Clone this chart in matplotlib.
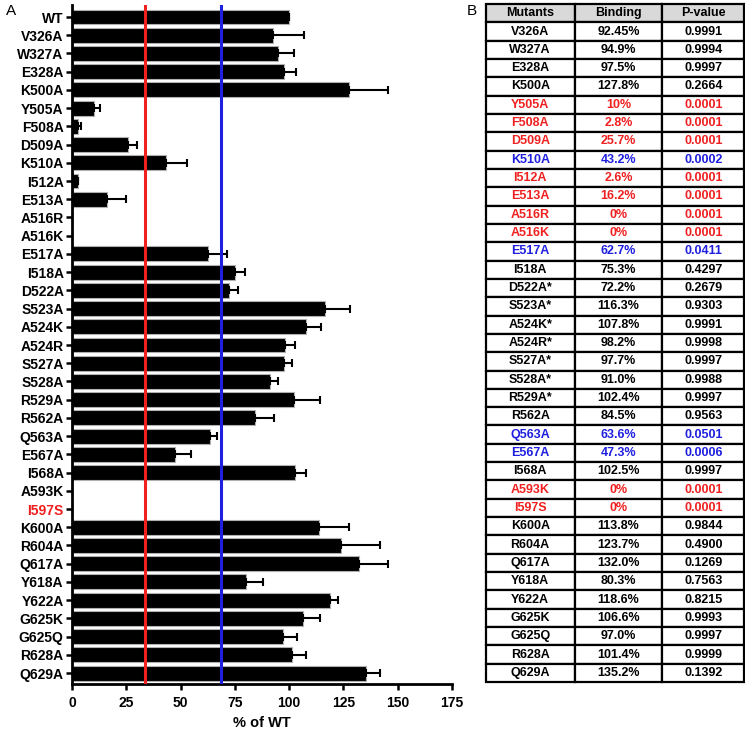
import numpy as np
import matplotlib.pyplot as plt

plt.rcParams['font.family'] = ['Liberation Sans', 'DejaVu Sans']
plt.rcParams['font.weight'] = 'bold'

# Bar chart data (% of WT binding)
labels = ['WT', 'V326A', 'W327A', 'E328A', 'K500A', 'Y505A', 'F508A', 'D509A',
          'K510A', 'I512A', 'E513A', 'A516R', 'A516K', 'E517A', 'I518A', 'D522A',
          'S523A', 'A524K', 'A524R', 'S527A', 'S528A', 'R529A', 'R562A', 'Q563A',
          'E567A', 'I568A', 'A593K', 'I597S', 'K600A', 'R604A', 'Q617A', 'Y618A',
          'Y622A', 'G625K', 'G625Q', 'R628A', 'Q629A']
binding = [100, 92.45, 94.9, 97.5, 127.8, 10, 2.8, 25.7,
           43.2, 2.6, 16.2, 0, 0, 62.7, 75.3, 72.2,
           116.3, 107.8, 98.2, 97.7, 91.0, 102.4, 84.5, 63.6,
           47.3, 102.5, 0, 0, 113.8, 123.7, 132.0, 80.3,
           118.6, 106.6, 97.0, 101.4, 135.2]
err = [0, 14.4, 7.2, 5.8, 17.8, 2.8, 1.5, 4.4,
       9.8, 0, 8.5, 0, 0, 8.7, 4.3, 4.1,
       11.6, 6.8, 4.5, 3.5, 4.1, 11.7, 8.6, 3.2,
       7.5, 5.1, 0, 0, 13.8, 18.0, 13.7, 7.7,
       3.9, 7.5, 6.8, 6.2, 6.5]
red_cut = 33.5
blue_cut = 68.5

# Table data
tbl_mutants = ['V326A', 'W327A', 'E328A', 'K500A', 'Y505A', 'F508A', 'D509A', 'K510A',
               'I512A', 'E513A', 'A516R', 'A516K', 'E517A', 'I518A', 'D522A*', 'S523A*',
               'A524K*', 'A524R*', 'S527A*', 'S528A*', 'R529A*', 'R562A', 'Q563A', 'E567A',
               'I568A', 'A593K', 'I597S', 'K600A', 'R604A', 'Q617A', 'Y618A', 'Y622A',
               'G625K', 'G625Q', 'R628A', 'Q629A']
tbl_binding = ['92.45%', '94.9%', '97.5%', '127.8%', '10%', '2.8%', '25.7%', '43.2%',
               '2.6%', '16.2%', '0%', '0%', '62.7%', '75.3%', '72.2%', '116.3%',
               '107.8%', '98.2%', '97.7%', '91.0%', '102.4%', '84.5%', '63.6%', '47.3%',
               '102.5%', '0%', '0%', '113.8%', '123.7%', '132.0%', '80.3%', '118.6%',
               '106.6%', '97.0%', '101.4%', '135.2%']
tbl_pvalue = ['0.9991', '0.9994', '0.9997', '0.2664', '0.0001', '0.0001', '0.0001', '0.0002',
              '0.0001', '0.0001', '0.0001', '0.0001', '0.0411', '0.4297', '0.2679', '0.9303',
              '0.9991', '0.9998', '0.9997', '0.9988', '0.9997', '0.9563', '0.0501', '0.0006',
              '0.9997', '0.0001', '0.0001', '0.9844', '0.4900', '0.1269', '0.7563', '0.8215',
              '0.9993', '0.9997', '0.9999', '0.1392']
red_rows = ['Y505A', 'F508A', 'D509A', 'I512A', 'E513A', 'A516R', 'A516K', 'A593K', 'I597S']
blue_rows = ['K510A', 'E517A', 'Q563A', 'E567A']

RED = '#f02020'
BLUE = '#1f1fe0'

fig = plt.figure(figsize=(7.45, 7.32), dpi=100)

# ---- Panel A: bar chart ----
ax = fig.add_axes([0.0966, 0.0656, 0.5101, 0.9276])
y = np.arange(len(labels))
ax.barh(y, binding, height=0.82, color='black', edgecolor='#b0b0b0', linewidth=0.8,
        xerr=[np.zeros(len(err)), err], error_kw=dict(ecolor='black', elinewidth=1.5,
                                                       capsize=3, capthick=1.5))
ax.axvline(red_cut, color=RED, lw=2.2, zorder=3)
ax.axvline(blue_cut, color=BLUE, lw=2.2, zorder=3)
ax.set_ylim(len(labels) - 0.4, -0.66)
ax.set_xlim(0, 175)
ax.set_xticks(np.arange(0, 176, 25))
ax.set_yticks(y)
ax.set_yticklabels(labels)
for t in ax.get_yticklabels():
    if t.get_text() == 'I597S':
        t.set_color(RED)
        t.set_fontsize(11)
ax.tick_params(axis='both', labelsize=10, width=1.8, length=4, pad=2)
ax.tick_params(axis='x', pad=5)
ax.spines['top'].set_visible(False)
ax.spines['right'].set_visible(False)
ax.spines['left'].set_linewidth(2)
ax.spines['bottom'].set_linewidth(2)
ax.set_xlabel('% of WT', fontsize=10.5, fontweight='bold', labelpad=4)
fig.text(0.008, 0.985, 'A', fontsize=11, fontweight='normal', va='center')

# ---- Panel B: table ----
tax = fig.add_axes([0.652, 0.0683, 0.347, 0.9262])
tax.axis('off')
cells = [[m, b, p] for m, b, p in zip(tbl_mutants, tbl_binding, tbl_pvalue)]
table = tax.table(cellText=cells, colLabels=['Mutants', 'Binding', 'P-value'],
                  cellLoc='center', bbox=[0, 0, 1, 1],
                  colWidths=[89 / 259, 88 / 259, 82 / 259])
table.auto_set_font_size(False)
for (r, c), cell in table.get_celld().items():
    cell.set_linewidth(1.6)
    cell.set_edgecolor('black')
    txt = cell.get_text()
    txt.set_fontsize(9)
    txt.set_fontweight('bold')
    if r == 0:
        cell.set_facecolor('#d9d9d9')
    else:
        name = tbl_mutants[r - 1]
        if name in red_rows:
            txt.set_color(RED)
        elif name in blue_rows:
            txt.set_color(BLUE)
fig.text(0.627, 0.985, 'B', fontsize=11, fontweight='normal', va='center')

fig.savefig('out.png', dpi=100)
